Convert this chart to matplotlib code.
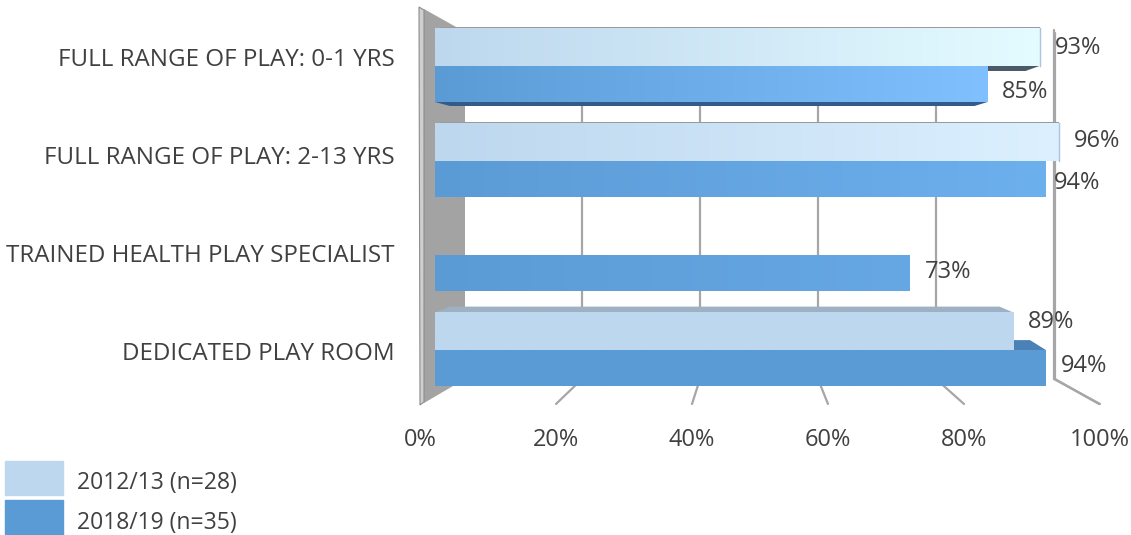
import numpy as np
import matplotlib
matplotlib.use("Agg")
import matplotlib.pyplot as plt
from matplotlib.patches import Polygon, Patch
from matplotlib.transforms import Affine2D
from matplotlib.colors import LinearSegmentedColormap

categories = ["FULL RANGE OF PLAY: 0-1 YRS", "FULL RANGE OF PLAY: 2-13 YRS",
              "TRAINED HEALTH PLAY SPECIALIST", "DEDICATED PLAY ROOM"]
series_names = ["2012/13 (n=28)", "2018/19 (n=35)"]
values_2012 = [93, 96, 0, 89]
values_2018 = [85, 94, 73, 94]
x_ticks = [0, 20, 40, 60, 80, 100]

LIGHT, DARK = "#BDD7EE", "#5B9BD5"
light_end = ["#E4FBFF", "#DCF0FF", "#BDD7EE", "#BDD7EE"]
dark_end = ["#80C0FF", "#6DB0EE", "#66A8E4", "#5B9BD5"]
light_label_off = [(39, 1), (38, -1), (0, 0), (38, -9)]
dark_label_off = [(38, 8), (31, 4), (39, -1), (38, -2)]
TXT = "#404040"
FONT = "Open Sans"
FS = 17.0

W, H = 1131, 535
fig = plt.figure(figsize=(W / 100, H / 100), dpi=100)
def rect(x0, ytop, x1, ybot):
    return [x0 / W, 1 - ybot / H, (x1 - x0) / W, (ybot - ytop) / H]
px = Affine2D().scale(1, -1).translate(0, H)

# frame: carries the tick labels and the 3D walls
fr = fig.add_axes(rect(420, 7, 1100, 405), zorder=0)
fr.set_xlim(0, 100)
fr.set_ylim(3.545, -0.505)
fr.patch.set_visible(False)
for s in fr.spines.values():
    s.set_visible(False)
fr.set_xticks(x_ticks, [f"{t}%" for t in x_ticks], fontsize=FS, color=TXT, family=FONT)
fr.set_yticks(range(len(categories)), categories, fontsize=17.4, color=TXT, family=FONT)
fr.tick_params(axis="x", length=0, pad=16.5)
fr.tick_params(axis="y", length=0, pad=18)

GRID = "#A6A6A6"
BACK_TOP, BACK_BOT = 30, 379
back_x = lambda v: 464 + 5.9 * v
front_x = lambda v: 420 + 6.8 * v
def chrome(xs, ys, **kw):
    fr.plot(xs, ys, transform=px, clip_on=False, solid_capstyle="round", **kw)
fr.add_patch(Polygon([(424, 9), (465, 32), (465, 379), (424, 403)], transform=px,
                     fc="#A3A3A3", ec="none", clip_on=False))
fr.add_patch(Polygon([(419, 7), (424, 10), (424, 402), (420, 405)], transform=px,
                     fc="#CFCFCF", ec="#8C8C8C", lw=0.8, clip_on=False))
for t in x_ticks[1:]:
    chrome([back_x(t)] * 2, [BACK_TOP, BACK_BOT], color=GRID, lw=1.6)
    chrome([back_x(t), front_x(t)], [BACK_BOT, 404], color=GRID, lw=1.6)

# bars
ax = fig.add_axes([435 / W, 0, 650 / W, 1], zorder=1)
ax.patch.set_visible(False)
ax.axis("off")
UY = 94.7
UX = 6.5
ylim = ((H - 66) / UY, -66 / UY)
BH_L = 37.5 / UY
BH_D = 36 / UY

def ramp(bar, c0, c1, z):
    x0, y0 = bar.get_x(), bar.get_y()
    cmap = LinearSegmentedColormap.from_list("r", [c0, c1])
    ax.imshow(np.linspace(0, 1, 256)[None, :], cmap=cmap, aspect="auto",
              extent=(x0, x0 + bar.get_width(), y0 + bar.get_height(), y0), zorder=z)

def face(pts, color, z):
    ax.add_patch(Polygon([(v + dx / UX, i + dy / UY) for v, i, dx, dy in pts],
                         fc=color, ec="none", zorder=z))

for i, (a, b) in enumerate(zip(values_2012, values_2018)):
    if a:
        bar = ax.barh(i - BH_L / 2, a, height=BH_L, color=LIGHT, zorder=4)[0]
        ramp(bar, LIGHT, light_end[i], 4.1)
        ax.annotate(f"{a}%", (a, i - BH_L / 2), xytext=(light_label_off[i][0] * .72, -light_label_off[i][1] * .72),
                    textcoords="offset points", ha="center", va="center",
                    fontsize=FS, color=TXT, family=FONT, zorder=6)
    bar = ax.barh(i + BH_D / 2, b, height=BH_D, color=DARK, zorder=3)[0]
    ramp(bar, DARK, dark_end[i], 3.1)
    ax.annotate(f"{b}%", (b, i + BH_D / 2), xytext=(dark_label_off[i][0] * .72, -dark_label_off[i][1] * .72),
                textcoords="offset points", ha="center", va="center",
                fontsize=FS, color=TXT, family=FONT, zorder=6)

# 3D faces of the bars
a0, b0 = values_2012[0], values_2018[0]
face([(0, BH_D, 0, 0), (0, BH_D, 15, 4), (b0, BH_D, -13, 4), (b0, BH_D, 0, 0)], "#2F5C88", 2)
face([(b0, 0, -2, 0), (b0, 0, -2, 5), (a0, 0, -14, 5), (a0, 0, 0, 0)], "#4A5A68", 2)
a3, b3 = values_2012[3], values_2018[3]
face([(0, 3 - BH_L, 0, 0), (0, 3 - BH_L, 15, -6), (a3, 3 - BH_L, -14, -6), (a3, 3 - BH_L, 0, 0)], "#9DB0C4", 2)
face([(a3, 3, 0, 0), (a3, 3, 0, -10), (b3, 3, -16, -10), (b3, 3, 0, 0)], "#4A82B8", 2)
for i in (0, 1):
    v = values_2012[i]
    face([(0, i - BH_L, 5, 0), (0, i - BH_L, 5, -1.5), (v, i - BH_L, 0, -1.5), (v, i - BH_L, 0, 0)], "#9A9A9A", 5)
    ax.plot([v, v], [i - BH_L, i], color="#A9C4DC", lw=1, zorder=5)

ax.set_xlim(0, 100)
ax.set_ylim(*ylim)

# right wall edge
chrome([1055, 1055, 1099], [33, 379, 404], color=GRID, lw=1.6)

leg = fig.legend(handles=[Patch(color=LIGHT), Patch(color=DARK)], labels=series_names,
                 loc="lower left", bbox_to_anchor=(5 / W, -4 / H), frameon=False,
                 prop={"family": FONT, "size": 16.5}, labelcolor=TXT,
                 handlelength=2.53, handleheight=1.95, labelspacing=0.22,
                 handletextpad=0.6, borderpad=0, borderaxespad=0)
for h in leg.legend_handles:
    h.set_y(h.get_y() + 2.9)

fig.savefig("out.png", dpi=100)
